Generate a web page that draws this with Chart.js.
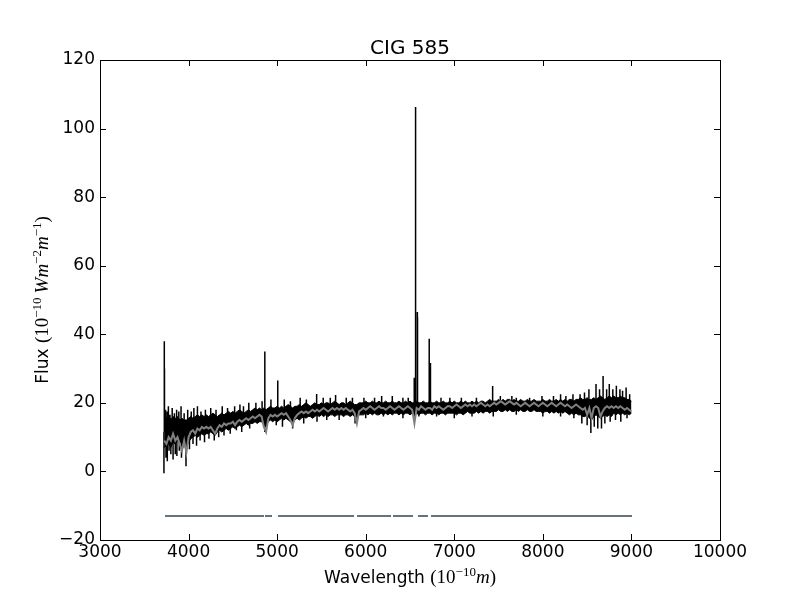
<!DOCTYPE html>
<html>
<head>
<meta charset="utf-8">
<script src="https://cdn.jsdelivr.net/npm/chart.js@4.4.1/dist/chart.umd.min.js"></script>
<style>
  body { margin: 0; background: #fff; }
  canvas { display: block; }
</style>
</head>
<body>
<canvas id="myChart" width="800" height="600"></canvas>
<script>
// wavelength grid shared by the arrays below (Angstrom)
var gridStart = 3725;
var gridStep = 25;

// observed spectrum: upper edge of the dense noise band (black)
var bandUpper = [
  16, 15.5, 16.5, 15, 16, 15.5, 16, 15, 15.5, 15,               // 3725
  15, 15.5, 16, 15.5, 16, 16.5, 16, 16.5, 16, 16.5,             // 3975
  16, 16.5, 17, 16.5, 16, 16.5, 17, 16.5, 17, 17.5,             // 4225
  17, 17.5, 17, 17.5, 18, 17.5, 17, 17.5, 18, 17.5,             // 4475
  18, 18.5, 18, 18.5, 18, 18.5, 18, 18.5, 19, 18.5,             // 4725
  18.5, 19, 18.5, 19, 18.5, 19, 19.5, 19, 18.5, 19,             // 4975
  19, 19.5, 19, 19.5, 20, 19.5, 19, 19.5, 20, 19.5,             // 5225
  19.5, 20, 19.5, 20, 20, 19.5, 20, 20.5, 20, 19.5,             // 5475
  20, 20, 19.5, 20, 20.5, 20, 19.5, 19.5, 20, 20,               // 5725
  20, 20.5, 20, 20, 20.5, 20, 20, 20.5, 20, 20,                 // 5975
  20.5, 20, 20, 20.5, 20, 20, 20.5, 20, 20, 20.5,               // 6225
  20, 20.5, 20, 20, 20.5, 20, 20, 20.5, 20, 20,                 // 6475
  20.5, 20, 20, 20.5, 20, 20, 20.5, 20, 20, 20.5,               // 6725
  20, 20.5, 20, 20, 20.5, 20, 20.5, 20, 20, 20.5,               // 6975
  20, 20.5, 20, 20.5, 20.5, 20, 20.5, 21, 20.5, 20.5,           // 7225
  20.5, 21, 20.5, 21, 20.5, 21, 21, 20.5, 21, 20.5,             // 7475
  20.5, 21, 20.5, 20.5, 21, 20.5, 20.5, 21, 20.5, 20.5,         // 7725
  20.5, 21, 20.5, 20.5, 21, 20.5, 20.5, 21, 20.5, 21,           // 7975
  20.5, 21, 20.5, 21, 21, 20.5, 21, 21, 21.5, 21,               // 8225
  21, 21.5, 21, 21, 21.5, 21, 21.5, 22, 21.5, 21,               // 8475
  21.5, 22, 21.5, 22, 21.5, 21.5, 22, 21.5, 21.5, 21,           // 8725
  21, 20.5                                                      // 8975
];

// observed spectrum: lower edge of the dense noise band
var bandLower = [
  7, 7.5, 8, 7, 8.5, 8, 9, 8.5, 8, 7.5,
  7, 8.5, 9.5, 10, 10.5, 10, 10.5, 11, 10.5, 11,
  11, 11.5, 11, 10.5, 11.5, 12, 11.5, 12, 12.5, 12,
  12.5, 13, 12.5, 13, 13.5, 13, 13.5, 14, 13.5, 14,
  14, 14.5, 14, 14.5, 14.5, 13.5, 13, 14.5, 15, 14.5,
  15, 14.5, 15, 15.5, 15, 15.5, 15, 14.5, 14, 15,
  15.5, 15, 15.5, 16, 15.5, 16, 16, 15.5, 16, 16.5,
  16, 16.5, 16, 16.5, 16, 16.5, 16.5, 16, 16.5, 16.5,
  16.5, 16, 16.5, 16.5, 16, 16.5, 16, 15.5, 16.5, 16.5,
  16.5, 17, 16.5, 17, 16.5, 17, 16.5, 16.5, 17, 16.5,
  17, 16.5, 17, 16.5, 17, 17, 16.5, 17, 16.5, 17,
  17, 16.5, 17, 16, 17, 16.5, 17, 17, 16.5, 17,
  17, 16.5, 17, 17, 16.5, 17, 17, 16.5, 17, 17,
  17, 17, 16.5, 17, 17, 16.5, 17, 17.5, 17, 17,
  17, 17.5, 17, 17.5, 17, 17.5, 17.5, 17, 17.5, 17.5,
  17.5, 18, 17.5, 17.5, 18, 17.5, 18, 17.5, 17.5, 18,
  17.5, 18, 17.5, 17.5, 18, 17.5, 17.5, 18, 17.5, 17.5,
  17.5, 17, 17.5, 17.5, 17, 17.5, 17, 17.5, 17, 17.5,
  17, 17.5, 17, 16.5, 17, 16.5, 17, 16.5, 16.5, 16,
  16, 16.5, 15.5, 15, 16, 16.5, 16, 15.5, 16, 16.5,
  16, 16.5, 16, 17, 16.5, 17, 16.5, 17, 16.5, 17,
  16.5, 17
];

// model / synthetic spectrum on the same grid (gray)
var modelFlux = [
  9, 8, 10, 9, 11, 9, 10, 8, 6, 9,
  5.5, 10, 11.5, 12, 11, 12.5, 12, 13, 12.5, 13,
  12.5, 13, 12, 11, 12.5, 13.5, 13, 14, 13.5, 14,
  14, 14.5, 13.5, 14.5, 15, 14.5, 15, 15.5, 15, 15.5,
  16, 15.5, 16, 16.5, 16, 13, 11.5, 15.5, 16.5, 16,
  16.5, 16, 16.5, 17, 16.5, 17, 16, 15, 13.5, 15.5,
  16.5, 17, 17.5, 17, 17.5, 17, 17.5, 18, 17.5, 18,
  17.5, 18, 18.5, 18, 17.5, 18, 18.5, 18, 18.5, 18,
  18.5, 18, 18.5, 18, 17.5, 18, 17, 14, 17.5, 18,
  18.5, 18, 18.5, 19, 18.5, 18, 18.5, 19, 18.5, 18.5,
  18, 18.5, 19, 18.5, 18, 18.5, 19, 18.5, 18, 18.5,
  19, 18.5, 18, 14, 18.5, 18, 19, 18.5, 18, 18.5,
  18.5, 18, 19, 18.5, 19, 18.5, 18, 18.5, 19, 19,
  18.5, 19, 19.5, 19, 18.5, 19, 19.5, 19, 19.5, 19,
  19.5, 19, 19.5, 20, 19.5, 19, 19.5, 19, 19.5, 20,
  19.5, 20, 20.5, 20, 19.5, 20, 20.5, 20, 19.5, 20,
  19.5, 19, 19.5, 20, 19.5, 19, 19.5, 20, 19.5, 19,
  19.5, 20, 19.5, 19, 19.5, 20, 19.5, 19, 19.5, 20,
  19.5, 19, 19.5, 19, 18.5, 19, 19.5, 19, 18.5, 18,
  18.5, 16.5, 18.5, 15.5, 18.5, 19, 18.5, 16, 17.5, 18.5,
  19, 18.5, 19, 18.5, 19, 18.5, 19, 18.5, 18, 18.5,
  18, 17.5
];

// single-pixel noise spikes and emission lines above the band (wavelength, tip)
var spikeUpWave = [3726, 3728, 3740, 3758, 3772, 3790, 3815, 3840, 3865, 3890, 3915, 3950, 3990,
  4030, 4060, 4100, 4140, 4190, 4250, 4310, 4380, 4440, 4520, 4580, 4620, 4680, 4760, 4830,
  4861, 4930, 5007, 5080, 5150, 5260, 5330, 5446, 5520, 5600, 5660, 5780, 5850, 5980, 6100,
  6180, 6300, 6420, 6480, 6548, 6563, 6583, 6585, 6717, 6731, 6850, 6950, 7080, 7250, 7433,
  7520, 7650, 7700, 7850, 7990, 8120, 8200, 8260, 8340, 8420, 8470, 8520, 8600, 8640, 8680,
  8720, 8750, 8790, 8830, 8870, 8900, 8940, 8980];
var spikeUpFlux = [38, 30, 18, 17.5, 19, 16.5, 18.5, 17, 18, 17.5, 19, 17, 18,
  17.5, 18.5, 19, 17.5, 18, 18.5, 18, 19, 18.5, 19, 19.5, 19, 20, 20, 20.5,
  35, 21, 26.5, 21, 20.5, 21.5, 21, 22.6, 21.5, 21.5, 22.3, 21.5, 21.5, 21.5, 21.5,
  22, 22, 21.5, 21.5, 27.3, 106.3, 46.5, 45, 38.7, 31.6, 21.5, 21.5, 21.5, 21.5, 24.9,
  22, 22, 21.5, 21.5, 22, 22, 22.5, 22, 22.5, 22.5, 23, 24, 25.5, 24, 27.8,
  24, 25.5, 24, 25, 24, 23.5, 24.5, 22.5];

// noise spikes below the band (wavelength, tip)
var spikeDownWave = [3722, 3745, 3760, 3780, 3800, 3825, 3850, 3868, 3895, 3920, 3945, 3971,
  4010, 4050, 4090, 4130, 4180, 4230, 4290, 4340, 4400, 4470, 4540, 4600, 4690, 4860, 4990,
  5060, 5175, 5300, 5450, 5560, 5700, 5880, 6000, 6200, 6420, 6600, 6800, 7000, 7200, 7440,
  7700, 8000, 8200, 8350, 8440, 8500, 8542, 8580, 8620, 8662, 8700, 8760, 8820, 8880, 8950];
var spikeDownFlux = [-0.5, 4, 3, 6, 5, 3.5, 5, 4.5, 6, 4, 7, 1.5,
  6.5, 8, 7.5, 9, 8.5, 9.5, 9, 10, 10.5, 11, 12, 11.5, 12.5, 11.5, 13.5,
  13, 12.5, 14, 14.5, 15, 15, 14, 15.5, 16, 15.5, 16, 16, 15.5, 16, 16,
  16.5, 16, 16, 15.5, 14, 13.5, 11.2, 13, 12.5, 12.5, 14, 14.5, 15, 14.5, 15.5];

// fitted (unmasked) wavelength ranges, drawn as a bar at the bottom
var maskStart = [3734, 4863, 5010, 5902, 6308, 6590, 6737];
var maskEnd = [4852, 4942, 5868, 6286, 6534, 6703, 9006];
var maskLevel = -13;

var xTicks = [3000, 4000, 5000, 6000, 7000, 8000, 9000, 10000];
var yTicks = [-20, 0, 20, 40, 60, 80, 100, 120];

function onGrid(values) {
  return values.map(function(f, i) { return { x: gridStart + i * gridStep, y: f }; });
}
function nearestIndex(w) {
  var i = Math.round((w - gridStart) / gridStep);
  return Math.max(0, Math.min(bandUpper.length - 1, i));
}

var upper = onGrid(bandUpper);
var lower = onGrid(bandLower);
var model = onGrid(modelFlux);

// each spike is a vertical stroke from the middle of the band to its tip
var spikes = [];
function addSpikes(waves, fluxes) {
  waves.forEach(function(w, i) {
    var k = nearestIndex(w);
    spikes.push({ x: w, y: (bandUpper[k] + bandLower[k]) / 2 });
    spikes.push({ x: w, y: fluxes[i] });
    spikes.push({ x: w, y: null });
  });
}
addSpikes(spikeUpWave, spikeUpFlux);
addSpikes(spikeDownWave, spikeDownFlux);

var mask = [];
maskStart.forEach(function(s, i) {
  mask.push({ x: s, y: maskLevel });
  mask.push({ x: maskEnd[i], y: maskLevel });
  mask.push({ x: maskEnd[i] + 1, y: null });
});

var SANS = '"DejaVu Sans", sans-serif';
var SERIF = '"Liberation Serif", "DejaVu Serif", serif';

function drawRuns(ctx, runs, cx, cy) {
  var total = 0;
  runs.forEach(function(r) {
    ctx.font = r.f;
    r.w = ctx.measureText(r.t).width + (r.gap || 0);
    total += r.w;
  });
  var x = cx - total / 2;
  runs.forEach(function(r) {
    ctx.font = r.f;
    ctx.fillText(r.t, x, cy + (r.sup ? -7 : 0));
    x += r.w;
  });
}

var frame = {
  id: 'frame',
  afterDraw: function(chart) {
    var ctx = chart.ctx, a = chart.chartArea;
    var xs = chart.scales.x, ys = chart.scales.y;
    ctx.save();
    ctx.strokeStyle = '#000';
    ctx.lineWidth = 1;
    ctx.beginPath();
    xTicks.forEach(function(v) {
      var px = Math.round(xs.getPixelForValue(v)) + 0.5;
      ctx.moveTo(px, a.bottom); ctx.lineTo(px, a.bottom - 6);
      ctx.moveTo(px, a.top); ctx.lineTo(px, a.top + 6);
    });
    yTicks.forEach(function(v) {
      var py = Math.round(ys.getPixelForValue(v)) + 0.5;
      ctx.moveTo(a.left, py); ctx.lineTo(a.left + 6, py);
      ctx.moveTo(a.right, py); ctx.lineTo(a.right - 6, py);
    });
    ctx.stroke();
    ctx.strokeRect(Math.round(a.left) + 0.5, Math.round(a.top) + 0.5,
      Math.round(a.right - a.left), Math.round(a.bottom - a.top));

    ctx.fillStyle = '#000';
    ctx.textAlign = 'left';
    ctx.textBaseline = 'alphabetic';
    // title
    ctx.font = '20px ' + SANS;
    var tw = ctx.measureText('CIG 585').width;
    ctx.fillText('CIG 585', (a.left + a.right) / 2 - tw / 2, 54);
    // x label
    drawRuns(ctx, [
      { t: 'Wavelength ', f: '17px ' + SANS },
      { t: '(10', f: '19px ' + SERIF },
      { t: '\u221210', f: '13px ' + SERIF, sup: true },
      { t: 'm', f: 'italic 19px ' + SERIF },
      { t: ')', f: '19px ' + SERIF }
    ], (a.left + a.right) / 2, 583);
    // y label
    ctx.translate(48, (a.top + a.bottom) / 2);
    ctx.rotate(-Math.PI / 2);
    drawRuns(ctx, [
      { t: 'Flux ', f: '17px ' + SANS },
      { t: '(10', f: '19px ' + SERIF },
      { t: '\u221210', f: '13px ' + SERIF, sup: true, gap: 4 },
      { t: 'Wm', f: 'italic 19px ' + SERIF },
      { t: '\u22122', f: '13px ' + SERIF, sup: true },
      { t: 'm', f: 'italic 19px ' + SERIF },
      { t: '\u22121', f: '13px ' + SERIF, sup: true },
      { t: ')', f: '19px ' + SERIF }
    ], 0, 0);
    ctx.restore();
  }
};

function tickLabel(v) {
  return String(v).replace('-', '\u2212');
}

new Chart(document.getElementById('myChart').getContext('2d'), {
  type: 'line',
  data: {
    datasets: [
      { data: model, borderColor: '#808080', borderWidth: 2, pointRadius: 0, order: 0 },
      { data: lower, borderColor: '#000000', borderWidth: 1, pointRadius: 0, order: 3 },
      { data: upper, borderColor: '#000000', borderWidth: 1, pointRadius: 0, order: 2,
        fill: 1, backgroundColor: '#000000' },
      { data: spikes, borderColor: '#000000', borderWidth: 1.5, pointRadius: 0, spanGaps: false, order: 1 },
      { data: mask, borderColor: '#66727c', borderWidth: 2, pointRadius: 0, spanGaps: false, order: 4 }
    ]
  },
  options: {
    responsive: false,
    devicePixelRatio: 1,
    animation: false,
    layout: { padding: { top: 60, right: 80, left: 0, bottom: 0 } },
    plugins: { legend: { display: false }, tooltip: { enabled: false }, title: { display: false } },
    scales: {
      x: {
        type: 'linear', min: 3000, max: 10000,
        afterBuildTicks: function(s) { s.ticks = xTicks.map(function(v) { return { value: v }; }); },
        afterFit: function(s) { s.height = 60; },
        grid: { display: false, drawTicks: false },
        border: { display: false },
        ticks: { color: '#000', font: { family: 'DejaVu Sans', size: 17 }, padding: 2, maxRotation: 0, callback: tickLabel }
      },
      y: {
        type: 'linear', min: -20, max: 120,
        afterBuildTicks: function(s) { s.ticks = yTicks.map(function(v) { return { value: v }; }); },
        afterFit: function(s) { s.width = 100; },
        grid: { display: false, drawTicks: false },
        border: { display: false },
        ticks: { color: '#000', font: { family: 'DejaVu Sans', size: 17 }, padding: 5, callback: tickLabel }
      }
    }
  },
  plugins: [frame]
});
</script>
</body>
</html>
